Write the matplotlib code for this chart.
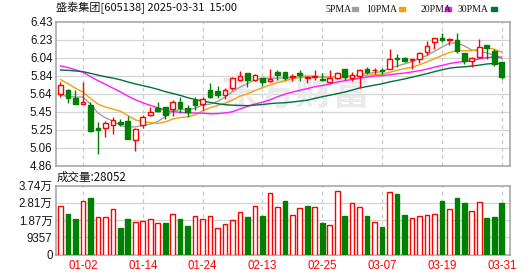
"""Daily K-line chart for 盛泰集团 (605138) with moving averages and volume."""

import matplotlib

matplotlib.use("Agg")
import matplotlib.pyplot as plt
import numpy as np
from matplotlib.patches import Rectangle

FIG_W, FIG_H = 530, 276

TITLE = "盛泰集团[605138] 2025-03-31  15:00"

DATES = [
    "12-27", "12-30", "12-31",
    "01-02", "01-03", "01-06", "01-07", "01-08", "01-09", "01-10", "01-13",
    "01-14", "01-15", "01-16", "01-17", "01-20", "01-21", "01-22", "01-23",
    "01-24", "01-27",
    "02-05", "02-06", "02-07", "02-10", "02-11", "02-12", "02-13", "02-14",
    "02-17", "02-18", "02-19", "02-20", "02-21", "02-24", "02-25", "02-26",
    "02-27", "02-28",
    "03-03", "03-04", "03-05", "03-06", "03-07", "03-10", "03-11", "03-12",
    "03-13", "03-14", "03-17", "03-18", "03-19", "03-20", "03-21", "03-24",
    "03-25", "03-26", "03-27", "03-28", "03-31",
]

OPEN = [
    5.64, 5.69, 5.60, 5.53, 5.52, 5.27, 5.27, 5.30, 5.34, 5.35,
    5.14, 5.30, 5.41, 5.49, 5.50, 5.48, 5.55, 5.49, 5.58, 5.53,
    5.69, 5.68, 5.63, 5.71, 5.80, 5.87, 5.80, 5.82, 5.78, 5.88,
    5.88, 5.83, 5.87, 5.815, 5.83, 5.81, 5.77, 5.82, 5.92, 5.82,
    5.84, 5.92, 5.90, 5.90, 5.92, 6.04, 6.04, 6.015, 6.03, 6.10,
    6.21, 6.26, 6.23, 6.23, 6.09, 6.00, 6.05, 6.18, 6.11, 5.99,
]
HIGH = [
    5.77, 5.70, 5.69, 5.77, 5.55, 5.34, 5.35, 5.39, 5.37, 5.40,
    5.27, 5.41, 5.50, 5.55, 5.50, 5.58, 5.61, 5.52, 5.61, 5.61,
    5.76, 5.73, 5.71, 5.83, 5.89, 5.87, 5.86, 5.82, 5.92, 5.90,
    5.88, 5.86, 5.91, 5.84, 5.91, 5.87, 5.90, 5.88, 5.92, 5.88,
    5.92, 5.94, 5.93, 5.93, 6.14, 6.08, 6.05, 6.03, 6.10, 6.22,
    6.26, 6.31, 6.26, 6.31, 6.09, 6.05, 6.24, 6.18, 6.14, 5.99,
]
LOW = [
    5.61, 5.54, 5.53, 5.53, 5.23, 4.99, 5.17, 5.21, 5.29, 5.15,
    5.02, 5.27, 5.40, 5.45, 5.37, 5.40, 5.44, 5.39, 5.47, 5.47,
    5.60, 5.60, 5.59, 5.69, 5.79, 5.72, 5.79, 5.73, 5.77, 5.80,
    5.80, 5.79, 5.79, 5.76, 5.80, 5.78, 5.76, 5.81, 5.80, 5.79,
    5.71, 5.86, 5.86, 5.86, 5.92, 5.94, 5.99, 5.92, 5.98, 6.07,
    6.14, 6.21, 6.18, 6.09, 5.97, 5.94, 6.04, 6.03, 5.95, 5.81,
]
CLOSE = [
    5.74, 5.60, 5.53, 5.56, 5.24, 5.25, 5.33, 5.36, 5.32, 5.15,
    5.26, 5.39, 5.45, 5.46, 5.41, 5.56, 5.49, 5.45, 5.52, 5.59,
    5.61, 5.63, 5.69, 5.82, 5.84, 5.80, 5.85, 5.77, 5.81, 5.85,
    5.82, 5.84, 5.85, 5.83, 5.84, 5.80, 5.82, 5.87, 5.83, 5.85,
    5.91, 5.88, 5.91, 5.895, 6.03, 6.025, 6.00, 6.025, 6.09, 6.17,
    6.26, 6.23, 6.24, 6.11, 6.00, 6.04, 6.16, 6.15, 5.97, 5.83,
]
VOLUME = [
    26300, 21970, 19260, 29020, 30830, 20340, 20340, 24680, 14550, 19260,
    17630, 18170, 19260, 17090, 17090, 21790, 19260, 15460, 20880, 19260,
    20880, 14190, 16360, 18710, 22870, 20340, 26300, 21060, 33520, 25580,
    29020, 21420, 25040, 26300, 25580, 17270, 16000, 34600, 20880, 28110,
    25580, 20880, 17450, 14740, 34060, 32810, 21420, 19620, 20700, 21240,
    21790, 29020, 24500, 30830, 28110, 23590, 28480, 19800, 20340, 28052,
]

# closes of the 29 sessions before the window, only needed for the averages
HISTORY_CLOSE = [
    5.70, 5.74, 5.78, 5.80, 5.83, 5.85, 5.82, 5.86, 5.88, 5.89,
    5.95, 6.02, 6.10, 6.18, 6.15, 6.12, 6.20, 6.14, 6.08, 6.06,
    6.05, 6.02, 5.98, 5.93, 5.87, 5.66, 5.58, 5.55, 5.62,
]

MA_WINDOWS = [5, 10, 20, 30]
MA_COLORS = ["#a0a0a0", "#f0a30a", "#ff1aff", "#00703c"]

DATE_TICKS = ["01-02", "01-14", "01-24", "02-13", "02-25", "03-07", "03-19", "03-31"]
PRICE_TICK_LABELS = ["4.86", "5.06", "5.25", "5.45", "5.64", "5.84", "6.04", "6.23", "6.43"]
VOLUME_TICKS = [0, 9357, 18714, 28071, 37428]
VOLUME_TICK_LABELS = ["0", "9357", "1.87万", "2.81万", "3.74万"]

UP = "#ff0000"
DOWN = "#008000"
GRID = "#d4d4d4"
FRAME = "#a0a0a0"
CJK = ["Noto Sans CJK SC", "DejaVu Sans"]
LATIN = ["Liberation Sans", "Noto Sans CJK SC"]


def px_box(left, top, right, bottom):
    """Axes rectangle in figure fractions from pixel edges."""
    return [left / FIG_W, 1 - bottom / FIG_H, (right - left) / FIG_W, (bottom - top) / FIG_H]


def style_axes(ax, xs_ticks):
    for spine in ax.spines.values():
        spine.set_color(FRAME)
        spine.set_linewidth(1.1)
    ax.tick_params(length=0, labelsize=8.3, colors="#151515", pad=2.5)
    for label in ax.get_yticklabels():
        label.set_fontfamily(LATIN)
    ax.set_xticks(xs_ticks)
    for x in xs_ticks:
        ax.axvline(x, color="#c8c8c8", lw=0.9, dashes=(3, 3), zorder=0)


def main():
    n = len(CLOSE)
    x = np.arange(n)
    o, h, l, c = (np.array(v) for v in (OPEN, HIGH, LOW, CLOSE))
    vol = np.array(VOLUME)
    rising = c > o
    prev_close = np.r_[HISTORY_CLOSE[-1], c[:-1]]
    vol_up = c > prev_close
    tick_pos = [DATES.index(d) for d in DATE_TICKS]

    fig = plt.figure(figsize=(FIG_W / 100, FIG_H / 100), dpi=100)
    ax = fig.add_axes(px_box(56, 22, 509.5, 165.6))
    axv = fig.add_axes(px_box(56, 185.5, 509.5, 254.5), sharex=ax)

    # price panel
    lo_p, hi_p = 4.86, 6.43
    price_ticks = np.linspace(lo_p, hi_p, len(PRICE_TICK_LABELS))
    ax.set_ylim(lo_p, hi_p)
    ax.set_yticks(price_ticks, PRICE_TICK_LABELS)
    for t in price_ticks[1:-1]:
        ax.axhline(t, color=GRID, lw=0.9, zorder=0)

    ax.text(0.53, 0.5, "东方财富", transform=ax.transAxes, ha="center", va="center",
            fontsize=27, fontweight="bold", color="#e9e9ee", family=CJK, zorder=0.5)

    full = np.r_[HISTORY_CLOSE, c]
    for window, color in zip(MA_WINDOWS, MA_COLORS):
        ma = np.convolve(full, np.ones(window) / window, mode="valid")[-n:]
        ax.plot(x, ma, color=color, lw=1.0, zorder=2)

    colors = np.where(rising, UP, DOWN)
    ax.vlines(x, l, h, colors=colors, lw=1.0, zorder=3)
    body = np.maximum(np.abs(c - o), 0.004)
    ax.bar(x, body, bottom=np.minimum(o, c), width=0.62,
           color=np.where(rising, "white", DOWN), edgecolor=colors, lw=1.0, zorder=4)

    # volume panel
    axv.set_ylim(0, VOLUME_TICKS[-1])
    axv.set_yticks(VOLUME_TICKS, VOLUME_TICK_LABELS)
    for t in VOLUME_TICKS[1:-1]:
        axv.axhline(t, color=GRID, lw=0.9, zorder=0)
    vcol = np.where(vol_up, UP, DOWN)
    axv.bar(x, vol, width=0.62, color=np.where(vol_up, "white", DOWN),
            edgecolor=vcol, lw=1.0, zorder=3)

    ax.set_xlim(-0.6, n + 0.04)
    style_axes(ax, tick_pos)
    style_axes(axv, tick_pos)
    ax.tick_params(labelbottom=False)
    axv.set_xticklabels(DATE_TICKS, color=UP, family=LATIN, fontsize=8.3)
    axv.tick_params(axis="x", pad=4)

    # header, legend and volume caption
    fig.text(56 / FIG_W, 1 - 8 / FIG_H, TITLE, family=CJK, fontsize=8,
             va="center", ha="left", color="#111111")
    legend_text_x = [325, 366, 421, 458]
    legend_box_x = [352, 399, 445, 491]
    for tx, bx, window, color in zip(legend_text_x, legend_box_x, MA_WINDOWS, MA_COLORS):
        fig.text(tx / FIG_W, 1 - 9 / FIG_H, f"{window}PMA", family="Liberation Serif",
                 fontsize=7.0, va="center", ha="left", color="#111111")
        fig.patches.append(Rectangle((bx / FIG_W, 1 - 11 / FIG_H), 6 / FIG_W, 4 / FIG_H,
                                     transform=fig.transFigure, color=color))
    fig.text(57 / FIG_W, 1 - 177 / FIG_H, f"成交量:{VOLUME[-1]}", family=CJK,
             fontsize=8.3, va="center", ha="left", color="#111111")

    fig.savefig("out.png", dpi=100)
    plt.close(fig)


if __name__ == "__main__":
    main()
